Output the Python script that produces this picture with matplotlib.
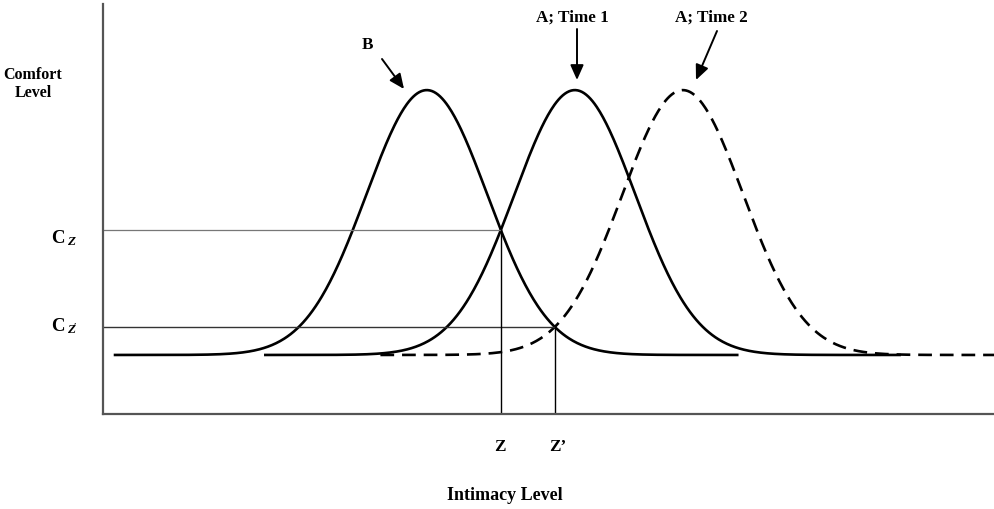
import numpy as np
import matplotlib
matplotlib.use("Agg")
import matplotlib.pyplot as plt

plt.rcParams['font.family'] = ['Liberation Serif', 'DejaVu Serif']
plt.rcParams['mathtext.fontset'] = 'custom'
plt.rcParams['mathtext.bf'] = 'Liberation Serif:bold'
plt.rcParams['mathtext.it'] = 'Liberation Serif:italic:bold'
plt.rcParams['mathtext.rm'] = 'Liberation Serif:bold'

# Curve parameters (intimacy 0-100, comfort 0-100)
curve_names = ["B", "A; Time 1", "A; Time 2"]
curve_means = [36.3, 52.9, 65.0]
curve_sigma = [6.77, 6.77, 6.77]
curve_start = [1.35, 18.2, 31.1]
curve_end = [71.1, 89.3, 100.0]
curve_styles = ["-", "-", "--"]
baseline = 14.4
amplitude = 64.6

def comfort(x, mu, s):
    return baseline + amplitude * np.exp(-(x - mu) ** 2 / (2 * s ** 2))

fig = plt.figure(figsize=(9.95, 5.10), dpi=100)
ax = fig.add_axes([103 / 995, 95 / 510, 892 / 995, 410 / 510])
ax.set_xlim(0, 100)
ax.set_ylim(0, 100)

# draw dashed first so solid on top
order = [2, 0, 1]
for i in order:
    xs = np.linspace(curve_start[i], curve_end[i], 600)
    ys = comfort(xs, curve_means[i], curve_sigma[i])
    if curve_styles[i] == "--":
        ax.plot(xs, ys, color="black", lw=1.9, ls=(0, (5.2, 3.0)), clip_on=False)
    else:
        ax.plot(xs, ys, color="black", lw=1.9)

# intersections
z = (curve_means[0] + curve_means[1]) / 2
zp = (curve_means[0] + curve_means[2]) / 2
cz = comfort(z, curve_means[0], curve_sigma[0])
czp = comfort(zp, curve_means[0], curve_sigma[0])

ax.plot([0, z], [cz, cz], color="#777777", lw=0.9)
ax.plot([0, zp], [czp, czp], color="#333333", lw=1.0)
ax.plot([z, z], [0, cz], color="black", lw=1.0)
ax.plot([zp, zp], [0, czp], color="black", lw=1.0)

for s in ["top", "right"]:
    ax.spines[s].set_visible(False)
for s in ["left", "bottom"]:
    ax.spines[s].set_color("#555555")
    ax.spines[s].set_linewidth(1.6)
ax.set_xticks([])
ax.set_yticks([])

tk = dict(fontsize=11.5, fontweight="bold", color="black")
tk2 = dict(fontsize=12.3, fontweight="bold", color="black")

# axis labels
fig.text(33 / 995, 1 - 84 / 510, "Comfort\nLevel", ha="center", va="center",
         linespacing=1.15, **tk)
fig.text(505 / 995, 1 - 496 / 510, "Intimacy Level", ha="center", va="center",
         fontsize=13, fontweight="bold")

# Cz labels
fig.text(51 / 995, 1 - 238 / 510, r"$\mathbf{C}_{\;\mathit{Z}}$", ha="left", va="center", fontsize=13.5)
fig.text(51 / 995, 1 - 326 / 510, r"$\mathbf{C}_{\;\mathit{Z\!'}}$", ha="left", va="center", fontsize=13.5)

# Z labels
ax.text(z - 0.1, -7.8, "Z", ha="center", va="center", **tk2)
ax.text(zp + 0.3, -7.8, "Z\u2019", ha="center", va="center", **tk2)

# annotations with arrows
def px2d(px, py):
    return ((px - 103) / 8.92, (415 - py) / 4.1)

ann = [
    ("B", (367, 45), (382, 60), (404, 90)),
    ("A; Time 1", (572, 18), (577, 30), (577, 81)),
    ("A; Time 2", (711, 18), (717, 32), (696, 81)),
]
for label, tpos, tail, head in ann:
    ax.text(*px2d(*tpos), label, ha="center", va="center", **tk2)
    ax.annotate("", xy=px2d(*head), xytext=px2d(*tail),
                arrowprops=dict(arrowstyle="-|>,head_length=0.9,head_width=0.4",
                                color="black", lw=1.4, shrinkA=0, shrinkB=0),
                annotation_clip=False)

fig.savefig("out.png", dpi=100, facecolor="white")
